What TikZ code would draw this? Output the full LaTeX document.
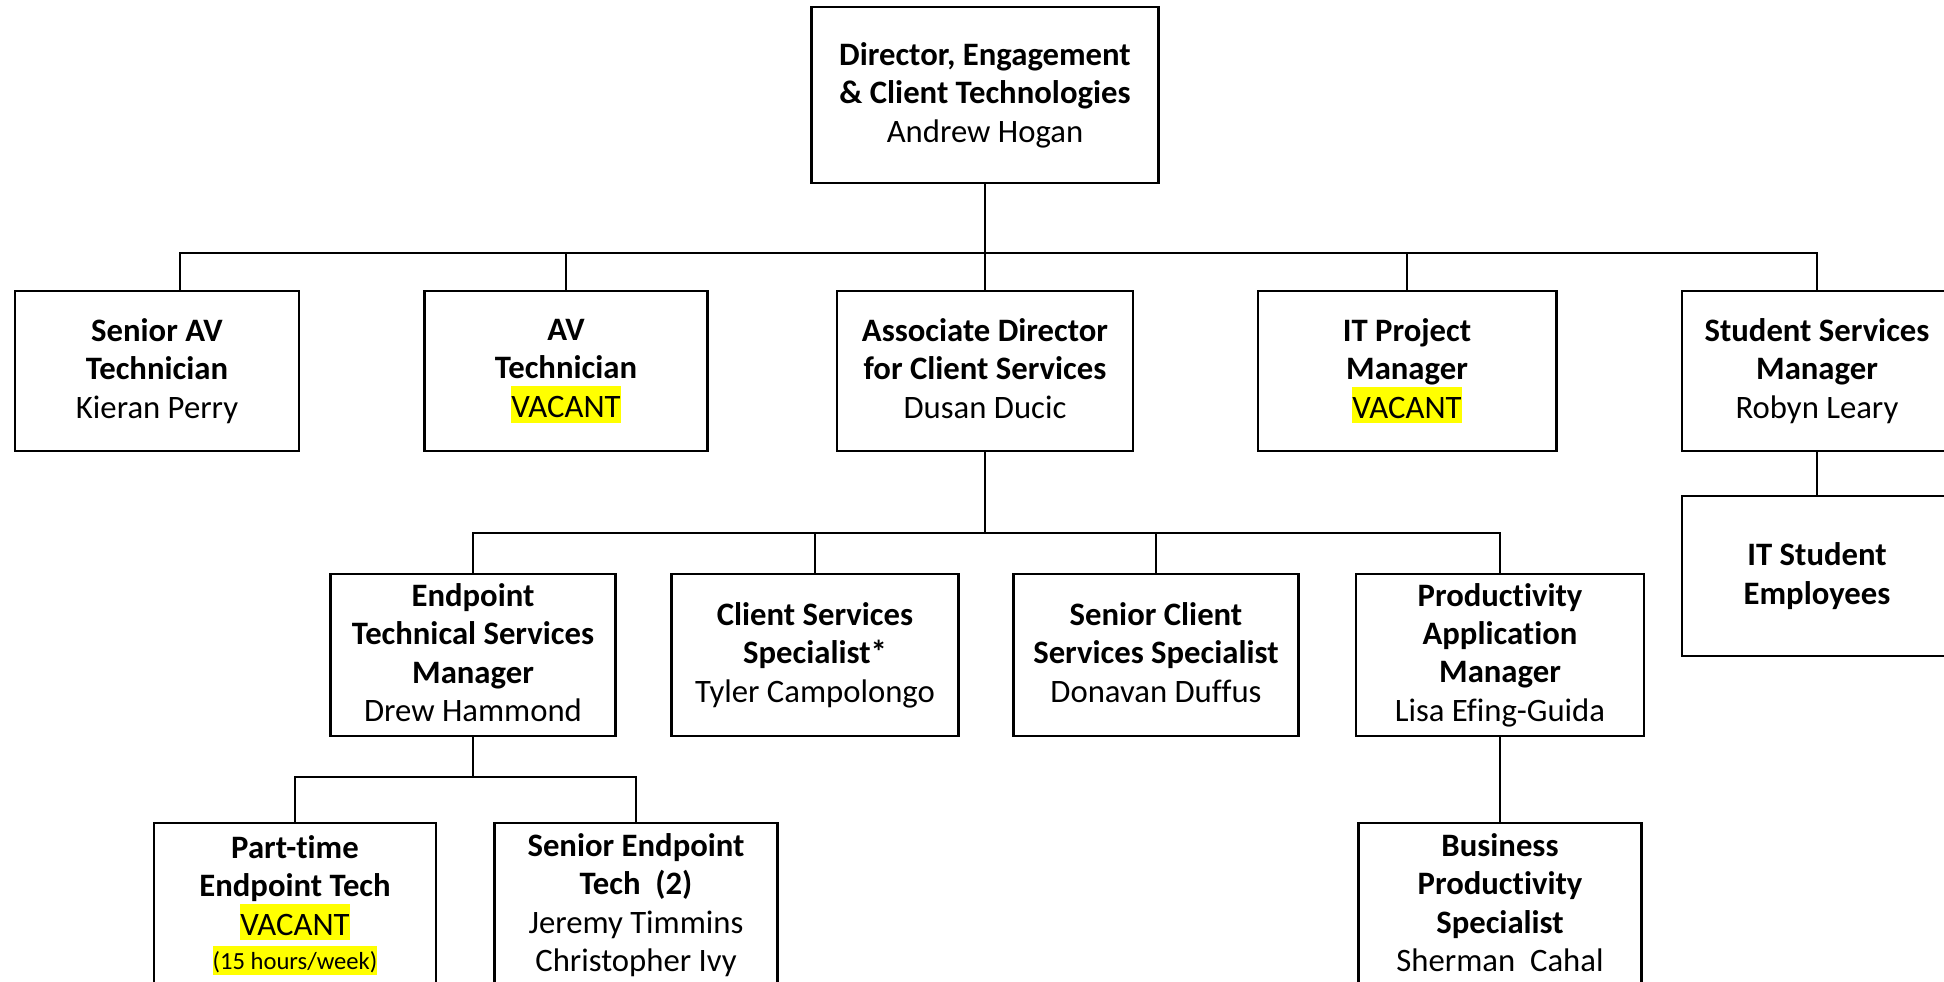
\documentclass[tikz,border=0pt]{standalone}
\usepackage{fontspec}
\setmainfont{Carlito}[Ligatures=NoCommon]
\usepackage{xcolor}
\usetikzlibrary{positioning}
\definecolor{vacantclr}{RGB}{255,255,0}
\newcommand{\vac}[1]{{\setlength{\fboxsep}{0pt}\colorbox{vacantclr}{\rule[-1.5pt]{0pt}{10.4pt}#1}}}
\newcommand{\vacsmall}[1]{{\fontsize{7}{8.5}\selectfont\setlength{\fboxsep}{0pt}\colorbox{vacantclr}{\rule[-1.5pt]{0pt}{8.2pt}#1}}}

\begin{document}
\begin{tikzpicture}[x=0.01cm, y=-0.01cm,
  postbox/.style={draw, line width=0.8pt, minimum height=1.6cm, align=center,
    inner xsep=2pt, inner ysep=0pt, font=\fontsize{9.3}{10.9}\selectfont,
    execute at begin node=\rule{0pt}{11.6pt},
    execute at end node=\rule[-1.5pt]{0pt}{0pt}},
  link/.style={line width=0.6pt}]

\useasboundingbox (0,0) rectangle (1944,981);
\clip (0,0) rectangle (1944,981);

% Director
\node[postbox, minimum width=3.46cm, minimum height=1.76cm] (dir) at (985,95)
  {\textbf{Director, Engagement}\\\textbf{\& Client Technologies}\\Andrew Hogan};

% Direct reports
\node[postbox, minimum width=2.84cm] (sav) at (157,371)
  {\textbf{Senior AV}\\\textbf{Technician}\\Kieran Perry};
\node[postbox, minimum width=2.83cm] (avt) at (566,371)
  {\textbf{AV}\\\textbf{Technician}\\\vac{VACANT}};
\node[postbox, minimum width=2.96cm] (adcs) at (985,371)
  {\textbf{Associate Director}\\\textbf{for Client Services}\\Dusan Ducic};
\node[postbox, minimum width=2.98cm] (itpm) at (1407,371)
  {\textbf{IT Project}\\\textbf{Manager}\\\vac{VACANT}};
\node[postbox, minimum width=2.70cm] (ssm) at (1817,371)
  {\textbf{Student Services}\\\textbf{Manager}\\Robyn Leary};
\node[postbox, minimum width=2.70cm] (its) at (1817,576)
  {\textbf{IT Student}\\\textbf{Employees}};

% Client services team
\node[postbox, minimum width=2.85cm, minimum height=1.62cm] (etsm) at (473,655)
  {\textbf{Endpoint}\\\textbf{Technical Services}\\\textbf{Manager}\\Drew Hammond};
\node[postbox, minimum width=2.87cm, minimum height=1.62cm] (css) at (815,655)
  {\textbf{Client Services}\\\textbf{Specialist*}\\Tyler Campolongo};
\node[postbox, minimum width=2.85cm, minimum height=1.62cm] (scss) at (1156,655)
  {\textbf{Senior Client}\\\textbf{Services Specialist}\\Donavan Duffus};
\node[postbox, minimum width=2.88cm, minimum height=1.62cm] (pam) at (1500,655)
  {\textbf{Productivity}\\\textbf{Application}\\\textbf{Manager}\\Lisa Efing-Guida};

% Bottom row (runs off the page)
\node[postbox, minimum width=2.82cm, minimum height=1.64cm] (pet) at (295,905)
  {\textbf{Part-time}\\\textbf{Endpoint Tech}\\\vac{VACANT}\\[-1.2pt]
   \vacsmall{(15 hours/week)}};
\node[postbox, minimum width=2.83cm, minimum height=1.64cm] (set) at (636,905)
  {\textbf{Senior Endpoint}\\\textbf{Tech\ \ (2)}\\Jeremy Timmins\\Christopher Ivy};
\node[postbox, minimum width=2.83cm, minimum height=1.64cm] (bps) at (1500,905)
  {\textbf{Business}\\\textbf{Productivity}\\\textbf{Specialist}\\Sherman\ \ Cahal};

% Reporting lines
\coordinate (bus1) at (985,253);
\coordinate (bus2) at (985,533);
\coordinate (bus3) at (473,777);

\draw[link] (dir) -- (adcs);
\draw[link] ([xshift=0.23cm]sav.north) |- (bus1);
\foreach \n in {avt, itpm, ssm}
  \draw[link] (\n.north) |- (bus1);
\draw[link] (ssm) -- (its);

\draw[link] (adcs) -- (bus2);
\foreach \n in {etsm, css, scss, pam}
  \draw[link] (\n.north) |- (bus2);

\draw[link] (etsm) -- (bus3);
\foreach \n in {pet, set}
  \draw[link] (\n.north) |- (bus3);
\draw[link] (pam) -- (bps);

\end{tikzpicture}
\end{document}
